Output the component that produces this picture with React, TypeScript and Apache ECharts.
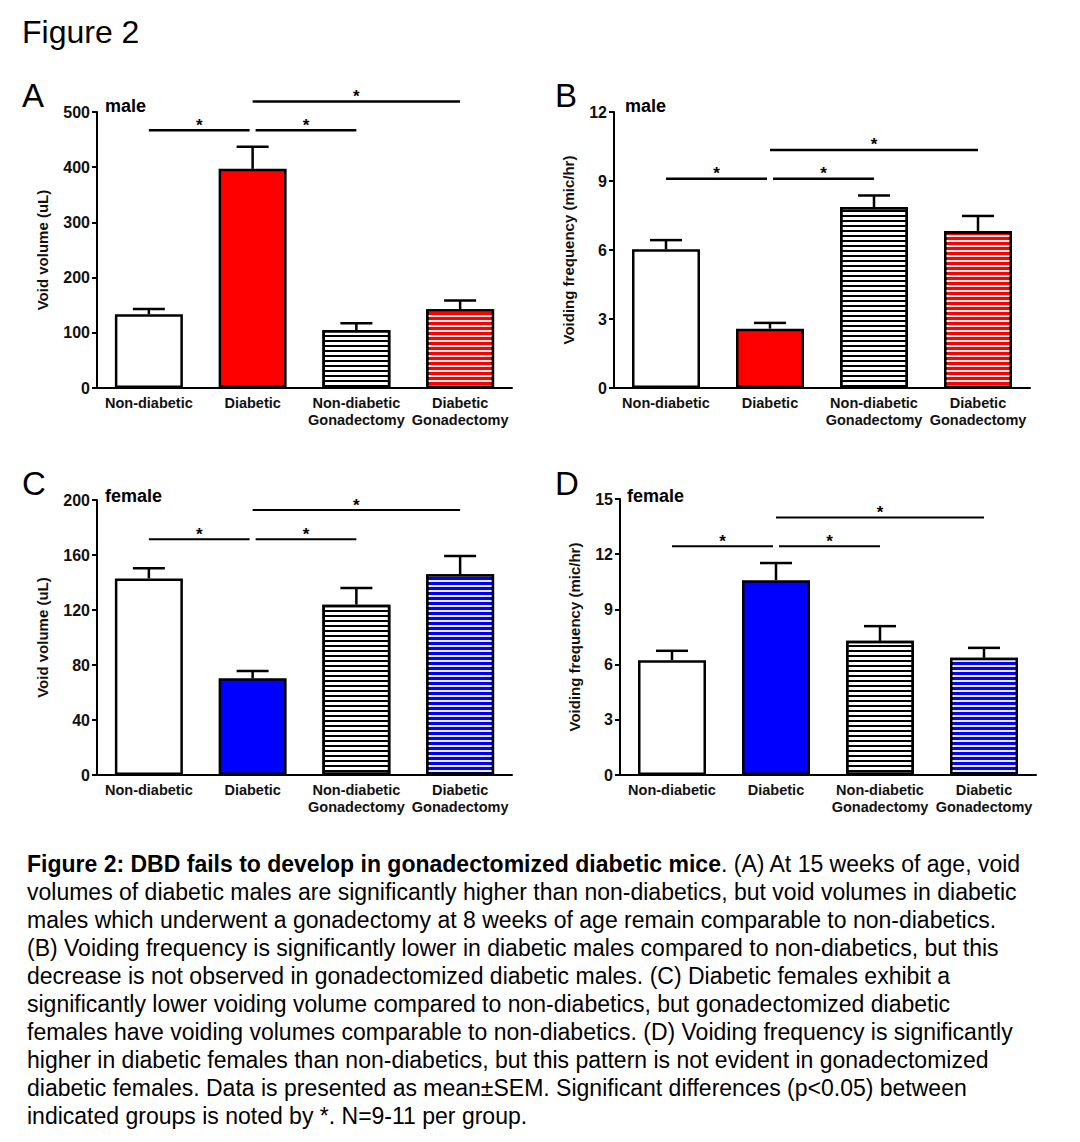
import React, { useEffect, useRef } from 'react';
import * as echarts from 'echarts';

// ---------- data ----------
const categories = ['Non-diabetic', 'Diabetic', 'Non-diabetic\nGonadectomy', 'Diabetic\nGonadectomy'];

const maleVolumeMean = [133.5, 397, 105, 142.5];
const maleVolumeSem = [9.5, 40, 12.5, 16];
const maleFreqMean = [6.03, 2.58, 7.87, 6.83];
const maleFreqSem = [0.4, 0.25, 0.5, 0.65];
const femaleVolumeMean = [143, 70.3, 123.9, 146];
const femaleVolumeSem = [7.3, 5.3, 12.1, 13.3];
const femaleFreqMean = [6.24, 10.59, 7.29, 6.37];
const femaleFreqSem = [0.51, 0.93, 0.8, 0.54];

// significance brackets: [fromGroup, toGroup, height]
const maleVolumeSig = [[0, 1, 467], [1, 2, 467], [1, 3, 519]];
const maleFreqSig = [[0, 1, 9.1], [1, 2, 9.1], [1, 3, 10.35]];
const femaleVolumeSig = [[0, 1, 171.4], [1, 2, 171.4], [1, 3, 192.7]];
const femaleFreqSig = [[0, 1, 12.43], [1, 2, 12.43], [1, 3, 14.0]];

// axis ranges: [min, max, interval]
const maleVolumeAxis = [0, 500, 100];
const maleFreqAxis = [0, 12, 3];
const femaleVolumeAxis = [0, 200, 40];
const femaleFreqAxis = [0, 15, 3];

const volumeTitle = 'Void volume (uL)';
const freqTitle = 'Voiding frequency (mic/hr)';

const captionLines = [
  '{b|Figure 2: DBD fails to develop in gonadectomized diabetic mice}. (A) At 15 weeks of age, void',
  'volumes of diabetic males are significantly higher than non-diabetics, but void volumes in diabetic',
  'males which underwent a gonadectomy at 8 weeks of age remain comparable to non-diabetics.',
  '(B) Voiding frequency is significantly lower in diabetic males compared to non-diabetics, but this',
  'decrease is not observed in gonadectomized diabetic males. (C) Diabetic females exhibit a',
  'significantly lower voiding volume compared to non-diabetics, but gonadectomized diabetic',
  'females have voiding volumes comparable to non-diabetics. (D) Voiding frequency is significantly',
  'higher in diabetic females than non-diabetics, but this pattern is not evident in gonadectomized',
  'diabetic females. Data is presented as mean±SEM. Significant differences (p<0.05) between',
  'indicated groups is noted by *. N=9-11 per group.',
];

const FONT = "'Liberation Sans', Arial, Helvetica, sans-serif";
const RED = '#ff0000';
const BLUE = '#0000ff';

const blackStripes = {
  symbol: 'rect', symbolSize: 1, symbolKeepAspect: false, color: '#000000',
  dashArrayX: [1, 0], dashArrayY: [2, 3], rotation: 0,
};
const whiteStripes = {
  symbol: 'rect', symbolSize: 1, symbolKeepAspect: false, color: 'rgba(255,255,255,0.92)',
  dashArrayX: [1, 0], dashArrayY: [2, 3], rotation: 0,
};

const panels = [
  { letter: 'A', sex: 'male', mean: maleVolumeMean, sem: maleVolumeSem, sig: maleVolumeSig, axis: maleVolumeAxis, title: volumeTitle, color: RED,
    grid: { left: 97, top: 112, width: 415, height: 276 }, nameGap: 47, letterPos: [22, 95], sexPos: [105, 106] },
  { letter: 'B', sex: 'male', mean: maleFreqMean, sem: maleFreqSem, sig: maleFreqSig, axis: maleFreqAxis, title: freqTitle, color: RED,
    grid: { left: 614, top: 112, width: 416, height: 276 }, nameGap: 38, letterPos: [555, 95], sexPos: [625, 106] },
  { letter: 'C', sex: 'female', mean: femaleVolumeMean, sem: femaleVolumeSem, sig: femaleVolumeSig, axis: femaleVolumeAxis, title: volumeTitle, color: BLUE,
    grid: { left: 97, top: 500, width: 415, height: 275 }, nameGap: 47, letterPos: [22, 483], sexPos: [105, 496] },
  { letter: 'D', sex: 'female', mean: femaleFreqMean, sem: femaleFreqSem, sig: femaleFreqSig, axis: femaleFreqAxis, title: freqTitle, color: BLUE,
    grid: { left: 620, top: 499, width: 416, height: 276 }, nameGap: 38, letterPos: [555, 483], sexPos: [627, 496] },
];

function buildOption() {
  const grid: any[] = [];
  const xAxis: any[] = [];
  const yAxis: any[] = [];
  const series: any[] = [];
  const graphic: any[] = [];

  graphic.push({
    type: 'text', left: 22, top: 16,
    style: { text: 'Figure 2', font: `32px ${FONT}`, fill: '#000' },
  });

  panels.forEach((p, i) => {
    grid.push({ ...p.grid, containLabel: false });
    xAxis.push({
      type: 'category', gridIndex: i, data: categories,
      axisLine: { lineStyle: { color: '#000', width: 2 } },
      axisTick: { alignWithLabel: true, length: 5, lineStyle: { color: '#000', width: 2 } },
      axisLabel: { interval: 0, margin: 6, color: '#111', fontFamily: FONT, fontWeight: 'bold', fontSize: 14.5, lineHeight: 17 },
      splitLine: { show: false },
    });
    yAxis.push({
      type: 'value', gridIndex: i, min: p.axis[0], max: p.axis[1], interval: p.axis[2],
      name: p.title, nameLocation: 'middle', nameGap: p.nameGap,
      nameTextStyle: { color: '#111', fontFamily: FONT, fontWeight: 'bold', fontSize: 15 },
      axisLine: { show: true, lineStyle: { color: '#000', width: 2 } },
      axisTick: { show: true, length: 5, lineStyle: { color: '#000', width: 2 } },
      axisLabel: { margin: 7, color: '#111', fontFamily: FONT, fontWeight: 'bold', fontSize: 16 },
      splitLine: { show: false },
    });

    const fills = ['#ffffff', p.color, '#ffffff', p.color];
    const decals = [null, null, blackStripes, whiteStripes];
    series.push({
      type: 'bar', xAxisIndex: i, yAxisIndex: i, barWidth: 68, z: 2,
      data: p.mean.map((v, k) => ({
        value: v,
        itemStyle: { color: fills[k], borderColor: '#000', borderWidth: 2.5, ...(decals[k] ? { decal: decals[k] } : {}) },
      })),
    });

    // error bars (mean + SEM, upper only)
    series.push({
      type: 'custom', xAxisIndex: i, yAxisIndex: i, z: 3, silent: true,
      data: p.mean.map((m, k) => [k, m, p.sem[k]]),
      renderItem: (params: any, api: any) => {
        const k = api.value(0);
        const m = api.value(1);
        const s = api.value(2);
        const base = api.coord([k, m]);
        const top = api.coord([k, m + s]);
        const st = { stroke: '#000', lineWidth: 2.5 };
        return {
          type: 'group',
          children: [
            { type: 'line', shape: { x1: base[0], y1: base[1], x2: top[0], y2: top[1] }, style: st },
            { type: 'line', shape: { x1: top[0] - 16, y1: top[1], x2: top[0] + 16, y2: top[1] }, style: st },
          ],
        };
      },
    });

    // significance brackets
    const sig = p.sig;
    const lw = i < 2 ? 2.5 : 2;
    series.push({
      type: 'custom', xAxisIndex: i, yAxisIndex: i, z: 3, silent: true,
      data: sig.map((b) => [b[0], b[2], b[1]]),
      renderItem: (params: any, api: any) => {
        const from = api.value(0);
        const h = api.value(1);
        const to = api.value(2);
        const idx = params.dataIndex;
        const leftShared = sig.some((o, j) => j !== idx && o[2] === h && o[1] === from);
        const rightShared = sig.some((o, j) => j !== idx && o[2] === h && o[0] === to);
        const a = api.coord([from, h]);
        const b = api.coord([to, h]);
        const x1 = a[0] + (leftShared ? 3 : 0);
        const x2 = b[0] - (rightShared ? 3 : 0);
        return {
          type: 'group',
          children: [
            { type: 'line', shape: { x1, y1: a[1], x2, y2: b[1] }, style: { stroke: '#000', lineWidth: lw } },
            { type: 'text', style: { text: '*', x: (x1 + x2) / 2, y: a[1] - 5, align: 'center', verticalAlign: 'middle', font: `bold 17px ${FONT}`, fill: '#000' } },
          ],
        };
      },
    });

    graphic.push({
      type: 'text', x: p.letterPos[0], y: p.letterPos[1],
      style: { text: p.letter, font: `33px ${FONT}`, fill: '#000', verticalAlign: 'middle', align: 'left' },
    });
    graphic.push({
      type: 'text', x: p.sexPos[0], y: p.sexPos[1],
      style: { text: p.sex, font: `bold 18px ${FONT}`, fill: '#000', verticalAlign: 'middle', align: 'left' },
    });
  });

  graphic.push({
    type: 'text', x: 27, y: 850,
    style: {
      text: captionLines.join('\n'),
      font: `23px ${FONT}`, fill: '#000', lineHeight: 28, verticalAlign: 'top', align: 'left',
      rich: { b: { font: `bold 23px ${FONT}`, fill: '#000', lineHeight: 28 } },
    },
  });

  return {
    animation: false,
    backgroundColor: '#ffffff',
    textStyle: { fontFamily: FONT },
    grid, xAxis, yAxis, series, graphic,
  };
}

export default function App() {
  const ref = useRef<HTMLDivElement>(null);
  useEffect(() => {
    if (!ref.current) return;
    const chart = echarts.init(ref.current, undefined, { renderer: 'svg' });
    chart.setOption(buildOption() as any);
    return () => chart.dispose();
  }, []);
  return (
    <div
      ref={ref}
      style={{ position: 'absolute', left: 0, top: 0, width: 1080, height: 1142, background: '#fff' }}
    />
  );
}
